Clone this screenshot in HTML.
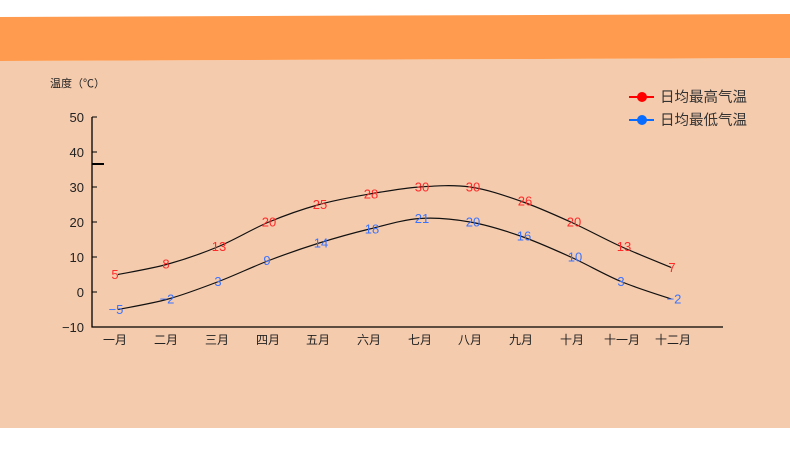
<!DOCTYPE html>
<html><head><meta charset="utf-8"><style>
html,body{margin:0;padding:0;background:#fff;}
svg{display:block;}
text{font-family:"Liberation Sans","Noto Sans CJK SC",sans-serif;}
</style></head><body>
<svg width="790" height="453" viewBox="0 0 790 453" xmlns="http://www.w3.org/2000/svg">
<rect x="0" y="0" width="790" height="453" fill="#ffffff"/>
<polygon points="0,61 790,58 790,428 0,428" fill="#f5cbad"/>
<polygon points="0,17 790,14 790,58 0,61" fill="#ff9b4e"/>

<text x="50" y="87" font-size="11" fill="#222">温度（℃）</text>

<!-- axes -->
<line x1="92" y1="117" x2="92" y2="327.5" stroke="#000" stroke-width="1.3"/>
<line x1="91.5" y1="327" x2="723" y2="327" stroke="#000" stroke-width="1.3"/>
<g stroke="#000" stroke-width="1">
<line x1="92" y1="117" x2="97" y2="117"/>
<line x1="92" y1="152" x2="97" y2="152"/>
<line x1="92" y1="187" x2="97" y2="187"/>
<line x1="92" y1="222" x2="97" y2="222"/>
<line x1="92" y1="257" x2="97" y2="257"/>
<line x1="92" y1="292" x2="97" y2="292"/>
</g>
<line x1="92" y1="164" x2="104" y2="164" stroke="#000" stroke-width="2"/>

<g font-size="13" fill="#222" text-anchor="end">
<text x="84" y="122">50</text>
<text x="84" y="157">40</text>
<text x="84" y="192">30</text>
<text x="84" y="227">20</text>
<text x="84" y="262">10</text>
<text x="84" y="297">0</text>
<text x="84" y="332">−10</text>
</g>

<g font-size="12" fill="#222" text-anchor="middle">
<text x="115" y="344">一月</text>
<text x="166" y="344">二月</text>
<text x="217" y="344">三月</text>
<text x="268" y="344">四月</text>
<text x="318" y="344">五月</text>
<text x="369" y="344">六月</text>
<text x="420" y="344">七月</text>
<text x="470" y="344">八月</text>
<text x="521" y="344">九月</text>
<text x="572" y="344">十月</text>
<text x="622" y="344">十一月</text>
<text x="673" y="344">十二月</text>
</g>

<path fill="none" stroke="#111" stroke-width="1.2" d="M118,274.5 C126.38,272.75 151.53,268.67 168.3,264 C185.07,259.33 201.83,253.5 218.6,246.5 C235.37,239.5 252.13,229 268.9,222 C285.67,215 302.43,209.17 319.2,204.5 C335.97,199.83 352.73,196.92 369.5,194 C386.27,191.08 403.03,188.17 419.8,187 C436.57,185.83 453.33,184.67 470.1,187 C486.87,189.33 503.63,195.17 520.4,201 C537.17,206.83 553.93,214.42 570.7,222 C587.47,229.58 604.23,238.92 621,246.5 C637.77,254.08 662.92,264 671.3,267.5"/>
<path fill="none" stroke="#111" stroke-width="1.2" d="M118,309.5 C126.38,307.75 151.53,303.67 168.3,299 C185.07,294.33 201.83,287.92 218.6,281.5 C235.37,275.08 252.13,266.92 268.9,260.5 C285.67,254.08 302.43,248.25 319.2,243 C335.97,237.75 352.73,233.08 369.5,229 C386.27,224.92 403.03,219.67 419.8,218.5 C436.57,217.33 453.33,219.08 470.1,222 C486.87,224.92 503.63,230.17 520.4,236 C537.17,241.83 553.93,249.42 570.7,257 C587.47,264.58 604.23,274.5 621,281.5 C637.77,288.5 662.92,296.08 671.3,299"/>

<g font-size="13" fill="#ff2a2a" text-anchor="middle">
<text x="115" y="279">5</text>
<text x="166" y="268.5">8</text>
<text x="219" y="251">13</text>
<text x="269" y="226.5">20</text>
<text x="320" y="209">25</text>
<text x="371" y="198.5">28</text>
<text x="422" y="191.5">30</text>
<text x="473" y="191.5">30</text>
<text x="525" y="205.5">26</text>
<text x="574" y="226.5">20</text>
<text x="624" y="251">13</text>
<text x="672" y="272">7</text>
</g>
<g font-size="13" fill="#3a73ff" text-anchor="middle">
<text x="116" y="314">−5</text>
<text x="167" y="303.5">−2</text>
<text x="218" y="286">3</text>
<text x="267" y="265">9</text>
<text x="321" y="247.5">14</text>
<text x="372" y="233.5">18</text>
<text x="422" y="223">21</text>
<text x="473" y="226.5">20</text>
<text x="524" y="240.5">16</text>
<text x="575" y="261.5">10</text>
<text x="621" y="286">3</text>
<text x="674" y="303.5">−2</text>
</g>

<!-- legend -->
<line x1="629" y1="97" x2="654" y2="97" stroke="#ff0000" stroke-width="2"/>
<circle cx="642" cy="97" r="5" fill="#ff0000"/>
<text x="660" y="102" font-size="14.5" fill="#333">日均最高气温</text>
<line x1="629" y1="120" x2="654" y2="120" stroke="#0a6cff" stroke-width="2"/>
<circle cx="642" cy="120" r="5" fill="#0a6cff"/>
<text x="660" y="125" font-size="14.5" fill="#333">日均最低气温</text>
</svg>
</body></html>
